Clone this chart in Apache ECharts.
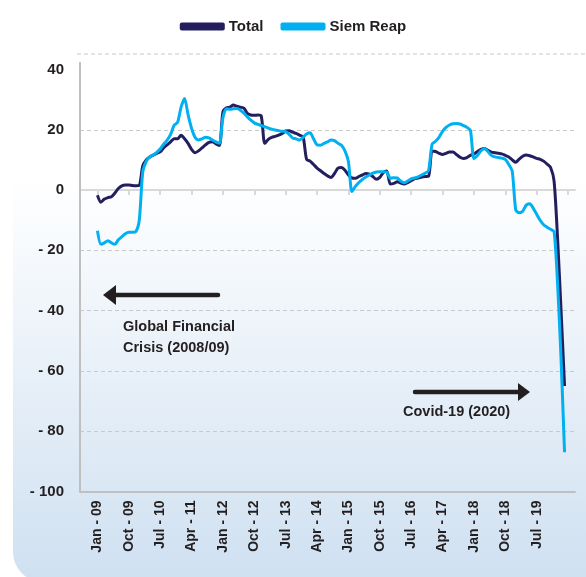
<!DOCTYPE html>
<html>
<head>
<meta charset="utf-8">
<script src="https://cdn.jsdelivr.net/npm/echarts@6/dist/echarts.min.js"></script>
<style>
  html, body { margin: 0; padding: 0; background: #fff; }
  #chart { width: 586px; height: 577px; }
</style>
</head>
<body>
<div id="chart"></div>
<script>
// monthly, index 0 = Jan-09, index 134 = Mar-20
var total = [
  -1.7, -4, -3, -2.5, -2.2, -1, 0.5, 1.4, 1.7, 1.7, 1.5, 1.4,
  1.5, 8, 10, 11, 11.6, 12.2, 12.7, 14, 15, 16, 17, 17,
  18.2, 17, 15.5, 13.5, 12.4, 13, 14, 15, 15.8, 16, 15.3, 14.8,
  26, 27.3, 27.5, 28.2, 27.8, 27.5, 27.2, 25.5, 24.9, 24.8, 24.9, 24.5,
  15.5, 16.8, 17.5, 17.8, 18.2, 18.8, 19.6, 19.7, 19.2, 18.8, 18.2, 17.7,
  10.2, 9.6, 8.5, 7.3, 6.4, 5.5, 4.7, 4.2, 5.5, 7.3, 7.5, 6.6,
  5, 4, 3.9, 4.5, 5, 5.5, 5.3, 4.5, 3.6, 4.2, 5.8, 6.3,
  2, 2.2, 2.8, 2.3, 2, 2.5, 3.1, 3.8, 4, 4.3, 4.5, 4.6,
  13, 12.8, 12.2, 11.8, 12.2, 12.6, 12.6, 11.8, 10.9, 10.5, 10.8, 11.5,
  12, 12.8, 13.5, 13.8, 13.2, 12.6, 12.4, 12.2, 12, 11.5, 11, 10,
  9.2, 10.3, 11.2, 11.6, 11.4, 11, 10.5, 10.2, 9.6, 8.6, 7.5, 3,
  -16, -40, -65
];
var siemReap = [
  -13.5, -18, -17.5, -16.8, -17.5, -18, -16.5, -15.5, -14.5, -14, -14, -13.8,
  -10, 6, 9.5, 11, 11.6, 12.5, 13.6, 15.2, 16.6, 18.5, 21.5, 22.5,
  27.5, 30.4, 25, 20.5, 17.5, 16.6, 17, 17.5, 17.3, 16.6, 16, 15.5,
  24, 27, 26.8, 27, 27.1, 26.5, 25.5, 24.3, 23.2, 22.3, 21.8, 21.4,
  21, 20.6, 20.2, 19.9, 19.7, 19.5, 19.4, 18.5, 17.3, 17, 16.6, 17.5,
  18.6, 19, 17, 15, 14.9, 15.5, 16, 16.6, 16.4, 15.5, 14.9, 13,
  9.5, -0.5, 1.2, 2.5, 3.5, 4.3, 5, 5.6, 6, 6.1, 6.1, 6,
  3.9, 4.1, 4, 3, 2.4, 3, 3.7, 4, 4.4, 5, 5.6, 6.5,
  15.2, 16.2, 17.5, 19.5, 20.8, 21.6, 22, 22.1, 21.9, 21.4, 20.8, 19.8,
  10.5, 11.5, 13, 13.8, 12.8, 11.5, 11, 10.8, 10.6, 10.2, 8.5, 6.2,
  -6.6, -7.5, -7, -5, -4.5, -6, -8, -10, -11.5, -12.3, -13, -13.8,
  -31, -56, -87
];
var tickIndex = [0, 9, 18, 27, 36, 45, 54, 63, 72, 81, 90, 99, 108, 117, 126, 135];
var tickLabels = ['Jan - 09', 'Oct - 09', 'Jul - 10', 'Apr - 11', 'Jan - 12', 'Oct - 12', 'Jul - 13',
  'Apr - 14', 'Jan - 15', 'Oct - 15', 'Jul - 16', 'Apr - 17', 'Jan - 18', 'Oct - 18', 'Jul - 19'];

var chart = echarts.init(document.getElementById('chart'));
var font = '"Liberation Sans", Arial, sans-serif';
var dark = '#231f20';
var gridCol = '#c9c9c9';

var options = {
  animation: false,
  textStyle: { fontFamily: font },
  legend: {
    top: 14,
    left: 'center',
    icon: 'roundRect',
    itemWidth: 45,
    itemHeight: 8,
    itemGap: 17,
    textStyle: { fontSize: 15, fontWeight: 'bold', color: dark, padding: [0, 0, 0, -1] },
    data: ['Total', 'Siem Reap']
  },
  grid: { left: 80, right: 11, top: 69.5, bottom: 85.5 },
  xAxis: [
    {
      type: 'value',
      min: -5,
      max: 137,
      axisLine: { onZero: true, lineStyle: { color: '#d9d9d9', width: 2 } },
      axisTick: { show: true, customValues: tickIndex, length: 5, lineStyle: { color: '#d9d9d9', width: 2 } },
      axisLabel: { show: false },
      splitLine: { show: false }
    },
    {
      type: 'value',
      position: 'bottom',
      min: -5,
      max: 137,
      axisLine: { show: true, onZero: false, lineStyle: { color: '#bfbfbf', width: 2 } },
      axisTick: { show: false },
      axisLabel: {
        customValues: tickIndex.slice(0, tickLabels.length),
        formatter: function (v) { return tickLabels[tickIndex.indexOf(v)]; },
        rotate: 90,
        margin: 9,
        fontSize: 14,
        fontWeight: 'bold',
        color: dark
      },
      splitLine: { show: false }
    }
  ],
  yAxis: {
    type: 'value',
    min: -100,
    max: 40,
    interval: 20,
    axisLine: { show: false },
    axisTick: { show: false },
    axisLabel: {
      margin: 16,
      fontSize: 15,
      fontWeight: 'bold',
      color: dark,
      formatter: function (v) { return v < 0 ? '- ' + Math.abs(v) : String(v); }
    },
    splitLine: {
      show: true,
      lineStyle: {
        type: [4, 3],
        color: ['transparent', gridCol, gridCol, gridCol, gridCol, gridCol, gridCol, 'transparent']
      }
    }
  },
  graphic: [
    {
      type: 'rect', z: -10, silent: true,
      shape: { x: 13, y: -40, width: 640, height: 622, r: 30 },
      style: {
        fill: new echarts.graphic.LinearGradient(0, 0, 0, 1, [
          { offset: 0, color: '#ffffff' },
          { offset: 0.35, color: '#ffffff' },
          { offset: 1, color: '#cfe0f1' }
        ])
      }
    },
    {
      type: 'line', silent: true,
      shape: { x1: 77, y1: 54, x2: 586, y2: 54 },
      style: { stroke: gridCol, lineWidth: 1, lineDash: [4, 3] }
    },
    {
      type: 'line', silent: true, z: 5,
      shape: { x1: 80, y1: 62, x2: 80, y2: 492 },
      style: { stroke: '#bfbfbf', lineWidth: 2 }
    },
    // left arrow
    {
      type: 'line', silent: true,
      shape: { x1: 218, y1: 295, x2: 112, y2: 295 },
      style: { stroke: dark, lineWidth: 4.5, lineCap: 'round' }
    },
    {
      type: 'polygon', silent: true,
      shape: { points: [[103, 295], [116, 285], [116, 305]] },
      style: { fill: dark }
    },
    {
      type: 'text', silent: true,
      style: {
        x: 123, y: 316, text: 'Global Financial\nCrisis (2008/09)',
        font: 'bold 14.5px ' + font, fill: dark, lineHeight: 21
      }
    },
    // right arrow
    {
      type: 'line', silent: true,
      shape: { x1: 415, y1: 392, x2: 520, y2: 392 },
      style: { stroke: dark, lineWidth: 4.5, lineCap: 'round' }
    },
    {
      type: 'polygon', silent: true,
      shape: { points: [[530, 392], [518, 383], [518, 401]] },
      style: { fill: dark }
    },
    {
      type: 'text', silent: true,
      style: {
        x: 403, y: 404, text: 'Covid-19 (2020)',
        font: 'bold 14.5px ' + font, fill: dark
      }
    }
  ],
  series: [
    {
      name: 'Total',
      type: 'line',
      smooth: 0.25,
      showSymbol: false,
      color: '#231f5e',
      lineStyle: { width: 3, color: '#231f5e' },
      data: total.map(function (v, i) { return [i, v]; })
    },
    {
      name: 'Siem Reap',
      type: 'line',
      smooth: 0.25,
      showSymbol: false,
      color: '#00b0f0',
      lineStyle: { width: 3, color: '#00b0f0' },
      data: siemReap.map(function (v, i) { return [i, v]; })
    }
  ]
};
chart.setOption(options);
</script>
</body>
</html>
